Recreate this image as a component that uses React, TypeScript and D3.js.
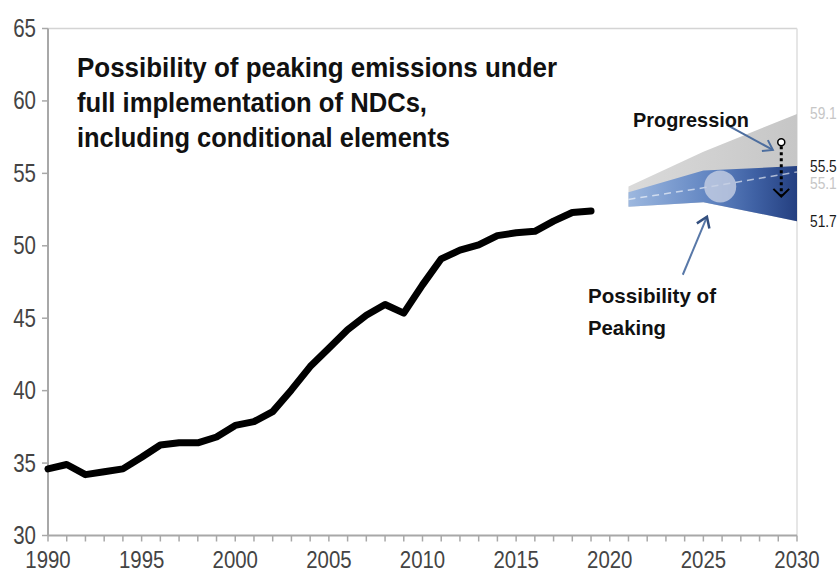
import React from "react";
import * as d3 from "d3";

const years = [1990, 1991, 1992, 1993, 1994, 1995, 1996, 1997, 1998, 1999, 2000, 2001, 2002, 2003, 2004, 2005, 2006, 2007, 2008, 2009, 2010, 2011, 2012, 2013, 2014, 2015, 2016, 2017, 2018, 2019];
const emissions = [34.6, 34.9, 34.2, 34.4, 34.6, 35.4, 36.25, 36.4, 36.4, 36.8, 37.6, 37.86, 38.55, 40.05, 41.66, 42.93, 44.2, 45.2, 45.95, 45.35, 47.3, 49.1, 49.7, 50.06, 50.7, 50.9, 51.0, 51.7, 52.3, 52.4];

const projYears = [2021, 2025, 2030];
const grayTop = [54.1, 56.5, 59.1];
const blueTop = [53.7, 55.2, 55.5];
const dashedMid = [53.2, 54.0, 55.1];
const blueBottom = [52.7, 53.0, 51.7];

const endLabelValues = [59.1, 55.5, 55.1, 51.7];
const endLabelTexts = ["59.1", "55.5", "55.1", "51.7"];

const xTicks = [1990, 1995, 2000, 2005, 2010, 2015, 2020, 2025, 2030];
const yTicks = [30, 35, 40, 45, 50, 55, 60, 65];
const minorYears = d3.range(1990, 2031);

const titleLines = [
  "Possibility of peaking emissions under",
  "full implementation of NDCs,",
  "including conditional elements",
];
const peakLabelLines = ["Possibility of", "Peaking"];
const progressionLabel = "Progression";

// annotation anchors in data units [year, value]
const peakCircle = [2025.9, 54.1];
const progArrow = [[2026.25, 58.35], [2028.71, 56.62]];
const dotArrow = [[2029.16, 57.15], [2029.16, 53.4]];
const peakArrow = [[2023.9, 48.0], [2025.19, 52.0]];

const W = 839, H = 574;
const FONT = "'Liberation Sans', Arial, Helvetica, sans-serif";

export default function App() {
  const x = d3.scaleLinear().domain([1990, 2030]).range([48, 797]);
  const y = d3.scaleLinear().domain([30, 65]).range([535.5, 28.5]);

  const line = d3.line<number>().x((_, i) => x(years[i])).y((d) => y(d));

  const bandArea = d3
    .area<number>()
    .x((_, i) => x(projYears[i]))
    .y0((_, i) => y(blueBottom[i]))
    .y1((d) => y(d));
  const dashLine = d3.line<number>().x((_, i) => x(projYears[i])).y((d) => y(d));

  const chevron = (from: number[], to: number[], len = 11, ang = 0.6) => {
    const fx = x(from[0]), fy = y(from[1]), tx = x(to[0]), ty = y(to[1]);
    const a = Math.atan2(fy - ty, fx - tx);
    const p1 = [tx + len * Math.cos(a + ang), ty + len * Math.sin(a + ang)];
    const p2 = [tx + len * Math.cos(a - ang), ty + len * Math.sin(a - ang)];
    return `M${p1[0]},${p1[1]}L${tx},${ty}L${p2[0]},${p2[1]}`;
  };

  const axisColor = "#a8a8a8";
  const labelColor = "#444";

  return (
    <svg
      width={W}
      height={H}
      style={{ position: "fixed", left: 0, top: 0, background: "#fff" }}
      fontFamily={FONT}
    >
      <defs>
        <linearGradient id="grayGrad" gradientUnits="userSpaceOnUse" x1={x(2021)} x2={x(2030)} y1={0} y2={0}>
          <stop offset="0" stopColor="#dadada" />
          <stop offset="1" stopColor="#c6c6c6" />
        </linearGradient>
        <linearGradient id="blueGrad" gradientUnits="userSpaceOnUse" x1={x(2021)} x2={x(2030)} y1={0} y2={0}>
          <stop offset="0" stopColor="#9db8df" />
          <stop offset="0.25" stopColor="#7d9dd0" />
          <stop offset="0.5" stopColor="#5f83c0" />
          <stop offset="0.75" stopColor="#3f61a4" />
          <stop offset="1" stopColor="#243f80" />
        </linearGradient>
      </defs>

      {/* frame lines */}
      <line x1={x(1990)} x2={x(2030)} y1={y(65)} y2={y(65)} stroke="#d4d4d4" strokeWidth={1.5} />
      <line x1={x(2030)} x2={x(2030)} y1={y(65)} y2={y(30)} stroke="#dedede" strokeWidth={1.5} />

      {/* y axis */}
      <line x1={x(1990)} x2={x(1990)} y1={y(65)} y2={y(30)} stroke={axisColor} strokeWidth={2} />
      {yTicks.map((t) => (
        <g key={"y" + t}>
          <line x1={x(1990) - 6} x2={x(1990)} y1={y(t)} y2={y(t)} stroke={axisColor} strokeWidth={1.5} />
          <text
            transform={`translate(${x(1990) - 12},${y(t) + 8.5}) scale(0.82,1)`}
            textAnchor="end"
            fontSize={25}
            fill={labelColor}
          >
            {t}
          </text>
        </g>
      ))}

      {/* x axis */}
      <line x1={x(1990)} x2={x(2030)} y1={y(30)} y2={y(30)} stroke={axisColor} strokeWidth={2} />
      {minorYears.map((t) => (
        <line key={"m" + t} x1={x(t)} x2={x(t)} y1={y(30)} y2={y(30) + 6} stroke={axisColor} strokeWidth={1.5} />
      ))}
      {xTicks.map((t) => (
        <text
          key={"x" + t}
          transform={`translate(${x(t)},${568}) scale(0.85,1)`}
          textAnchor="middle"
          fontSize={24}
          fill={labelColor}
        >
          {t}
        </text>
      ))}

      {/* historical line */}
      <path d={line(emissions) || ""} fill="none" stroke="#000" strokeWidth={7} strokeLinejoin="round" strokeLinecap="round" />

      {/* projection bands */}
      <path d={bandArea(grayTop) || ""} fill="url(#grayGrad)" />
      <path d={bandArea(blueTop) || ""} fill="url(#blueGrad)" />
      <path d={dashLine(dashedMid) || ""} fill="none" stroke="#ffffff" strokeOpacity={0.6} strokeWidth={1.5} strokeDasharray="7 5" />
      <circle cx={x(peakCircle[0])} cy={y(peakCircle[1])} r={16} fill="#c7d0e3" fillOpacity={0.8} />

      {/* end labels */}
      {endLabelValues.map((v, i) => {
        const gray = i === 0 || i === 2;
        const off = i === 2 ? 12 : 0;
        return (
          <text
            key={"e" + i}
            transform={`translate(810,${y(v) + off + 5.5}) scale(0.86,1)`}
            fontSize={16}
            fill={gray ? "#c6c6c6" : "#1a1a1a"}
          >
            {endLabelTexts[i]}
          </text>
        );
      })}

      {/* progression arrow */}
      <line
        x1={x(progArrow[0][0])}
        y1={y(progArrow[0][1])}
        x2={x(progArrow[1][0])}
        y2={y(progArrow[1][1])}
        stroke="#4d6e9f"
        strokeWidth={2}
      />
      <path d={chevron(progArrow[0], progArrow[1])} fill="none" stroke="#4d6e9f" strokeWidth={2} />

      {/* dotted vertical arrow */}
      <line
        x1={x(dotArrow[0][0])}
        y1={y(dotArrow[0][1]) + 4}
        x2={x(dotArrow[1][0])}
        y2={y(dotArrow[1][1]) - 1}
        stroke="#000"
        strokeWidth={3}
        strokeDasharray="3 3"
      />
      <path d={chevron(dotArrow[0], dotArrow[1], 11, 0.8)} fill="none" stroke="#000" strokeWidth={2} />
      <circle cx={x(dotArrow[0][0])} cy={y(dotArrow[0][1])} r={3.5} fill="#fff" stroke="#000" strokeWidth={1.5} />

      {/* peaking arrow */}
      <line
        x1={x(peakArrow[0][0])}
        y1={y(peakArrow[0][1])}
        x2={x(peakArrow[1][0])}
        y2={y(peakArrow[1][1])}
        stroke="#5878a8"
        strokeWidth={2}
      />
      <path d={chevron(peakArrow[0], peakArrow[1], 12, 0.6)} fill="none" stroke="#34507f" strokeWidth={2.5} />

      {/* annotation texts */}
      <text x={633} y={126.5} fontSize={21} fontWeight="bold" fill="#111" textLength={116} lengthAdjust="spacingAndGlyphs">
        {progressionLabel}
      </text>
      <text x={588} y={303} fontSize={21} fontWeight="bold" fill="#111" textLength={128} lengthAdjust="spacingAndGlyphs">
        {peakLabelLines[0]}
      </text>
      <text x={588} y={335} fontSize={21} fontWeight="bold" fill="#111" textLength={78} lengthAdjust="spacingAndGlyphs">
        {peakLabelLines[1]}
      </text>

      {/* title */}
      {titleLines.map((t, i) => (
        <text
          key={"t" + i}
          x={77}
          y={77 + i * 35}
          fontSize={28}
          fontWeight="bold"
          fill="#111"
          textLength={[480, 350, 373][i]}
          lengthAdjust="spacingAndGlyphs"
        >
          {t}
        </text>
      ))}
    </svg>
  );
}
